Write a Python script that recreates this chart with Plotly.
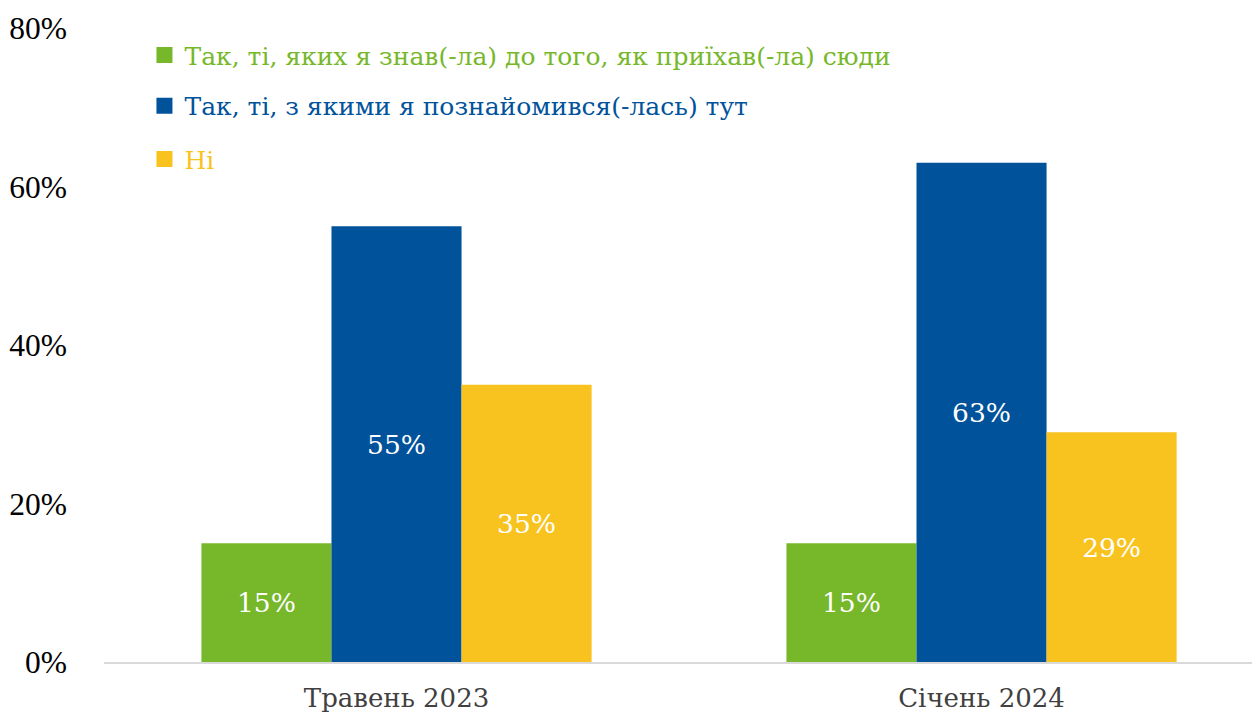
import plotly.graph_objects as go

categories = ["Травень 2023", "Січень 2024"]
series_names = [
    "Так, ті, яких я знав(-ла) до того, як приїхав(-ла) сюди",
    "Так, ті, з якими я познайомився(-лась) тут",
    "Ні",
]
knew_before = [15, 15]
met_here = [55, 63]
no_values = [35, 29]
colors = ["#76B82A", "#00529B", "#F9C31F"]
y_ticks = [0, 20, 40, 60, 80]
y_tick_labels = ["0%", "20%", "40%", "60%", "80%"]

serif = "DejaVu Serif"
fig = go.Figure()
legend_ids = ["legend", "legend2", "legend3"]
for name, vals, col in zip(series_names, [knew_before, met_here, no_values], colors):
    fig.add_trace(go.Bar(
        x=categories, y=vals, name=name,
        marker=dict(color=col, line=dict(width=0)),
        text=[f"{v}%" for v in vals], textposition="inside",
        insidetextanchor="middle",
        textfont=dict(family=serif, size=26.5, color="white"),
        hoverinfo="skip", showlegend=False,
    ))
# legend entries (square swatches)
for name, col, lg in zip(series_names, colors, legend_ids):
    fig.add_trace(go.Scatter(
        x=[None], y=[None], name=name, mode="markers",
        marker=dict(symbol="square", size=18, color=col),
        legend=lg, showlegend=True, hoverinfo="skip",
    ))

legend_y = [0.957, 0.877, 0.793]
common_legend = dict(x=0.035, xanchor="left", yanchor="middle",
                     bgcolor="rgba(0,0,0,0)", itemwidth=30, visible=True,
                     itemsizing="trace")
layout_legends = {}
for lg, yy, col in zip(legend_ids, legend_y, colors):
    layout_legends[lg] = dict(common_legend, y=yy, font=dict(family=serif, size=25, color=col))

fig.update_layout(
    width=1252, height=709,
    margin=dict(l=96, r=0, t=20, b=55),
    plot_bgcolor="white", paper_bgcolor="white",
    showlegend=True,
    barmode="group", bargap=0.333, bargroupgap=0,
    xaxis=dict(range=[-0.5, 1.476], showgrid=False, showline=True,
               linecolor="#D9D9D9", linewidth=2, ticks="", automargin=False,
               ticklabelstandoff=12,
               tickfont=dict(family=serif, size=26, color="#404040")),
    yaxis=dict(range=[0, 80], tickvals=y_ticks, ticktext=y_tick_labels,
               showgrid=False, zeroline=False, showline=False, ticks="",
               ticklabelstandoff=36, automargin=False,
               tickfont=dict(family="Liberation Serif", size=31.5, color="black")),
    **layout_legends,
)

fig.write_html("out.html")
